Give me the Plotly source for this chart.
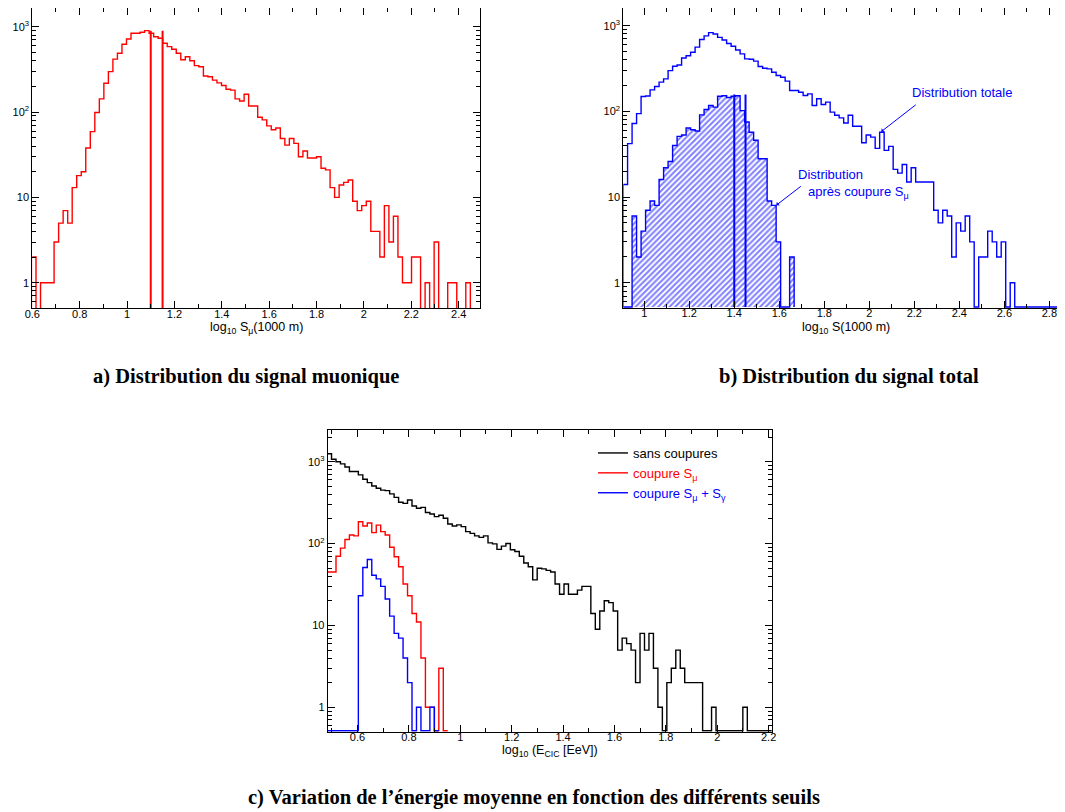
import plotly.graph_objects as go

# ---- panel a: muon signal, log10 S_mu(1000 m) ----
MU_START = 0.5965
MU_WIDTH = 0.0191
mu_counts = [
    2, 0, 1, 1, 1, 3, 5, 7, 5, 13,
    18, 20, 38, 59, 99, 143, 218, 298, 418, 490,
    623, 720, 839, 839, 863, 900, 839, 765, 733, 640,
    585, 545, 490, 410, 446, 400, 350, 340, 265, 260,
    237, 220, 205, 185, 181, 143, 135, 162, 118, 118,
    87, 81, 69, 62, 65, 49, 41, 49, 43, 30,
    35, 29, 29, 30, 22, 21, 13, 10, 14, 15,
    16, 9, 7, 8, 9, 4, 4, 2, 8, 3,
    6, 2, 1, 1, 2, 2, 0, 1, 0, 3,
    0, 0, 1, 1, 0, 0, 1, 0, 0, 0,
]
mu_cut_values = [1.1, 1.15]
mu_cut_top = 900

# ---- panel b: total signal, log10 S(1000 m) ----
TOT_START = 0.906
TOT_WIDTH = 0.02
total_counts = [
    14, 42, 72, 94, 149, 151, 178, 195, 219, 239,
    299, 336, 347, 419, 445, 489, 562, 690, 760, 830,
    800, 730, 680, 620, 575, 520, 468, 410, 405, 385,
    333, 318, 313, 286, 262, 250, 225, 175, 175, 167,
    153, 160, 117, 140, 120, 128, 98, 90, 84, 73,
    90, 67, 67, 43, 53, 50, 37, 57, 35, 39,
    21, 19, 24, 15, 22, 15, 15, 15, 15, 7,
    5, 7, 6, 2, 5, 4, 6, 3, 0, 2,
    2, 4, 3, 2, 3, 0, 1, 0, 0, 0,
    0, 0, 0, 0, 0, 0, 0, 0, 0,
]
after_cut_counts = [
    0, 0, 6, 2, 4, 7, 9, 8, 16, 22,
    26, 40, 51, 53, 64, 61, 59, 91, 105, 117,
    112, 150, 152, 145, 150, 152, 102, 75, 57, 46,
    28, 28, 9, 8, 3, 0, 0, 2,
]
tot_cut_values = [1.4, 1.45]
tot_cut_top = 157

# ---- panel c: log10(E_CIC [EeV]) ----
E_START = 0.4815
E_WIDTH = 0.0174
e_no_cut = [
    1250, 1070, 1000, 940, 860, 760, 760, 690, 610, 555,
    505, 473, 450, 443, 404, 367, 319, 310, 340, 287,
    270, 277, 240, 230, 213, 222, 204, 173, 164, 169,
    161, 140, 133, 124, 119, 124, 102, 99, 85, 93,
    100, 84, 80, 70, 58, 52, 36, 50, 49, 47,
    45, 32, 24, 32, 24, 24, 27, 30, 30, 14,
    9, 15, 20, 19, 15, 5, 7, 6, 5, 2,
    8, 5, 8, 3, 1, 0, 2, 3, 5, 3,
    2, 2, 2, 2, 0, 0, 1, 0, 0, 0,
    0, 0, 0, 1, 0, 0, 0, 0, 0, 0,
]
e_cut_mu = [
    45, 45, 70, 88, 112, 127, 124, 185, 164, 178,
    136, 168, 140, 127, 90, 69, 52, 32, 23, 14,
    11, 4, 1, 1, 0, 3, 0,
]
e_cut_mu_gamma = [
    0, 0, 0, 0, 0, 0, 0, 23, 51, 64,
    41, 37, 30, 21, 13, 8, 7, 4, 2, 0,
    1, 0, 0, 1, 0,
]
legend_names = ["sans coupures", "coupure S<sub>μ</sub>", "coupure S<sub>μ</sub> + S<sub>γ</sub>"]

RED = "#ff0000"
BLUE = "#0000ff"
# the page body keeps its 8px margin, so the figure is laid out 8px smaller
OFF = 8
W, H = 1065 - OFF, 812 - OFF

A_YR = [-0.30, 3.22]
B_YR = [-0.295, 3.206]
C_YR = [-0.298, 3.387]


def px(x):
    return (x - OFF) / W


def py(y):
    return 1 - (y - OFF) / H


def step_xy(start, width, counts, floor):
    # histogram outline; empty bins fall to the floor value
    edges = [start + width * i for i in range(len(counts) + 1)]
    ys = [c if c > 0 else floor for c in counts]
    return [edges[0]] + edges + [edges[-1]], [floor] + ys + [ys[-1], floor]


def cut_xy(values, floor, top):
    xs, ys = [], []
    for v in values:
        xs += [v, v, None]
        ys += [floor, top, None]
    return xs, ys


fig = go.Figure()

# panel a
floor_a = 0.1
x, y = step_xy(MU_START, MU_WIDTH, mu_counts, floor_a)
fig.add_trace(go.Scatter(x=x, y=y, mode="lines", line=dict(color=RED, width=1.4, shape="hv"),
                         xaxis="x", yaxis="y", showlegend=False))
x, y = cut_xy(mu_cut_values, floor_a, mu_cut_top)
fig.add_trace(go.Scatter(x=x, y=y, mode="lines", line=dict(color=RED, width=2),
                         xaxis="x", yaxis="y", showlegend=False))

# panel b
floor_b = 10 ** (B_YR[0] + 0.012)
x, y = step_xy(TOT_START, TOT_WIDTH, after_cut_counts, floor_b)
fig.add_trace(go.Scatter(x=x, y=y, mode="lines", line=dict(color=BLUE, width=1.4, shape="hv"),
                         fill="toself", fillcolor="rgba(0,0,0,0)",
                         fillpattern=dict(shape="/", fgcolor=BLUE, bgcolor="rgba(0,0,0,0)",
                                          size=4, solidity=0.5),
                         xaxis="x2", yaxis="y2", showlegend=False))
x, y = step_xy(TOT_START, TOT_WIDTH, total_counts, floor_b)
fig.add_trace(go.Scatter(x=x, y=y, mode="lines", line=dict(color=BLUE, width=1.4, shape="hv"),
                         xaxis="x2", yaxis="y2", showlegend=False))
x, y = cut_xy(tot_cut_values, floor_b, tot_cut_top)
fig.add_trace(go.Scatter(x=x, y=y, mode="lines", line=dict(color=BLUE, width=2),
                         xaxis="x2", yaxis="y2", showlegend=False))

# panel c
floor_c = 10 ** (C_YR[0] + 0.012)
for counts, color, name in zip([e_no_cut, e_cut_mu, e_cut_mu_gamma], ["black", RED, BLUE], legend_names):
    x, y = step_xy(E_START, E_WIDTH, counts, floor_c)
    fig.add_trace(go.Scatter(x=x, y=y, mode="lines", line=dict(color=color, width=1.4, shape="hv"),
                             name=f'<span style="color:{color}">{name}</span>',
                             xaxis="x3", yaxis="y3"))

minor_log = [m * 10 ** e for e in range(-1, 4) for m in range(2, 10)]


def xaxis(domain, rng, anchor):
    return dict(domain=domain, range=rng, anchor=anchor, showgrid=False, zeroline=False,
                automargin=False, showline=True, linecolor="black", linewidth=1, mirror="allticks",
                ticks="inside", ticklen=7, tickcolor="black", dtick=0.2, tick0=0,
                tickfont=dict(size=11), ticklabelstandoff=-5,
                minor=dict(dtick=0.1, ticks="inside", ticklen=4, tickcolor="black", showgrid=False))


def yaxis(domain, rng, anchor):
    return dict(type="log", domain=domain, range=rng, anchor=anchor, showgrid=False, zeroline=False,
                automargin=False, showline=True, linecolor="black", linewidth=1, mirror="allticks",
                ticks="inside", ticklen=7, tickcolor="black",
                tickvals=[1, 10, 100, 1000], ticktext=["1", "10", "10<sup>2</sup>", "10<sup>3</sup>"],
                tickfont=dict(size=11),
                minor=dict(tickvals=minor_log, ticks="inside", ticklen=4, tickcolor="black", showgrid=False))


fig.update_layout(
    width=W, height=H, margin=dict(l=0, r=0, t=0, b=0),
    paper_bgcolor="white", plot_bgcolor="white",
    font=dict(family="Liberation Sans, Arial, sans-serif", size=11, color="black"),
    xaxis=xaxis([px(32.3), px(480)], [0.6, 2.49], "y"),
    yaxis=yaxis([py(308.3), py(8)], A_YR, "x"),
    xaxis2=xaxis([px(623.3), px(1064)], [0.907, 2.865], "y2"),
    yaxis2=yaxis([py(308), py(8)], B_YR, "x2"),
    xaxis3=xaxis([px(327.7), px(771.7)], [0.484, 2.212], "y3"),
    yaxis3=yaxis([py(731.7), py(430)], C_YR, "x3"),
    legend=dict(x=px(593), y=py(438), xanchor="left", yanchor="top", bgcolor="rgba(0,0,0,0)",
                font=dict(size=13), tracegroupgap=0, itemwidth=30),
)

cap_font = dict(family="Liberation Serif, Times New Roman, serif", size=20.5, color="black")
sans13 = dict(family="Liberation Sans, Arial, sans-serif", size=12.5, color="black")
blue13 = dict(family="Liberation Sans, Arial, sans-serif", size=13, color=BLUE)

annotations = [
    # axis titles
    dict(text="log<sub>10</sub> S<sub>μ</sub>(1000 m)", x=px(256), y=py(328), font=sans13),
    dict(text="log<sub>10</sub> S(1000 m)", x=px(846), y=py(328), font=sans13),
    dict(text="log<sub>10</sub> (E<sub>CIC</sub> [EeV])", x=px(550), y=py(751), font=sans13),
    # captions
    dict(text="<b>a) Distribution du signal muonique</b>", x=px(246), y=py(376), font=cap_font),
    dict(text="<b>b) Distribution du signal total</b>", x=px(849), y=py(376), font=cap_font),
    dict(text="<b>c) Variation de l’énergie moyenne en fonction des différents seuils</b>",
         x=px(534), y=py(797), font=cap_font),
    # panel b labels
    dict(text="Distribution totale", x=px(910), y=py(93), xanchor="left", font=blue13),
    dict(text="Distribution", x=px(796), y=py(174), xanchor="left", font=blue13),
    dict(text="après coupure S<sub>μ</sub>", x=px(806), y=py(192), xanchor="left", font=blue13),
]
for a in annotations:
    a.setdefault("xref", "paper")
    a.setdefault("yref", "paper")
    a.setdefault("showarrow", False)
    a.setdefault("xanchor", "center")
    a.setdefault("yanchor", "middle")
    fig.add_annotation(**a)

# arrows (log axis: y given in log10 units)
fig.add_annotation(x=2.053, y=1.763, xref="x2", yref="y2", text="", showarrow=True,
                   ax=36, ay=-28, arrowhead=1, arrowsize=0.8, arrowwidth=1, arrowcolor=BLUE, standoff=0)
fig.add_annotation(x=1.587, y=0.905, xref="x2", yref="y2", text="", showarrow=True,
                   ax=26, ay=-20, arrowhead=1, arrowsize=0.8, arrowwidth=1, arrowcolor=BLUE, standoff=0)

fig.write_html("out.html")
